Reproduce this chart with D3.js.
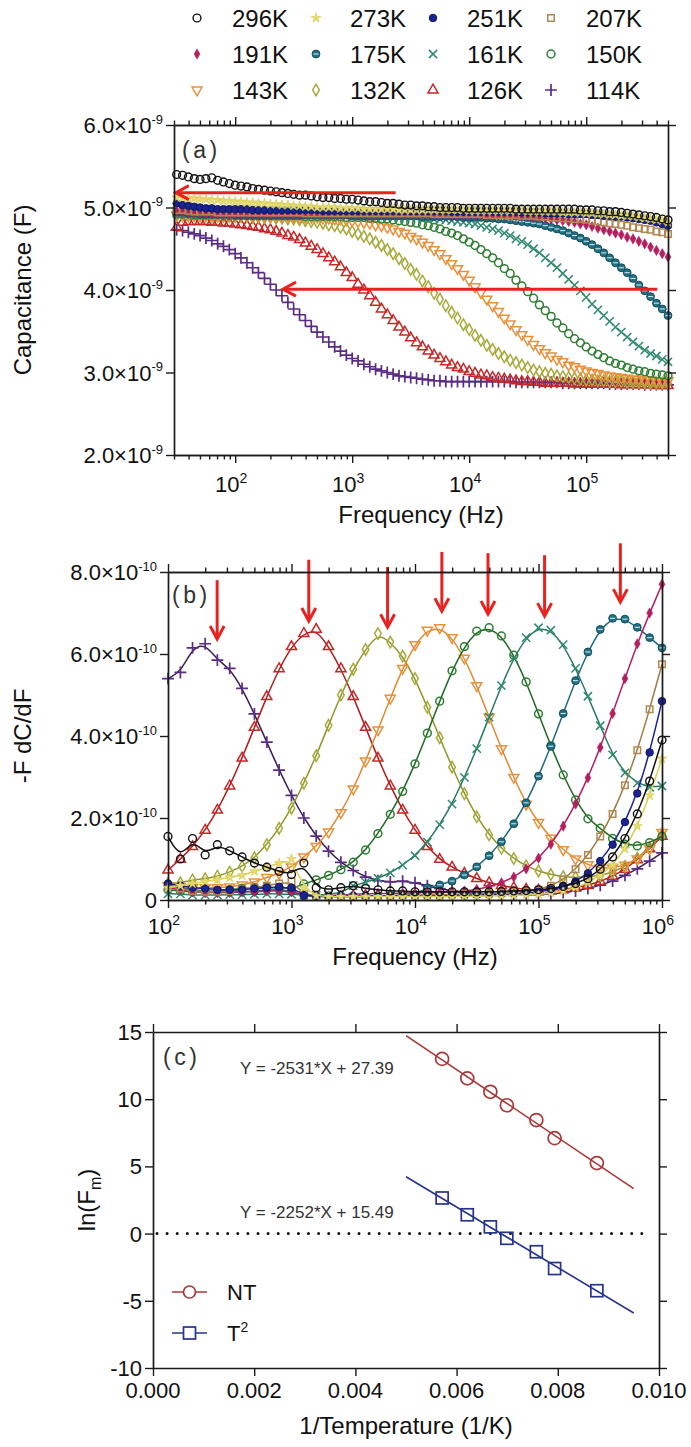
<!DOCTYPE html>
<html><head><meta charset="utf-8">
<script src="https://cdn.jsdelivr.net/npm/d3@7"></script>
<style>
body{margin:0;background:#fff}
svg{display:block}
text{font-family:Arial,"Liberation Sans",Helvetica,sans-serif}
</style>
</head><body>
<svg id="c" width="691" height="1447"></svg>
<script>
// ---------------- DATA ----------------
const temps = ["296K","273K","251K","207K","191K","175K","161K","150K","143K","132K","126K","114K"];

// Panel (a): frequency grid (Hz) and capacitance (nF)
const freqA = [31.6,35.5,39.8,44.7,50.1,56.2,63.1,70.8,79.4,89.1,
 100,112,126,141,158,178,200,224,251,282,
 316,355,398,447,501,562,631,708,794,891,
 1000,1122,1259,1413,1585,1778,1995,2239,2512,2818,
 3162,3548,3981,4467,5012,5623,6310,7079,7943,8913,
 10000,11220,12589,14125,15849,17783,19953,22387,25119,28184,
 31623,35481,39811,44668,50119,56234,63096,70795,79433,89125,
 100000,112202,125893,141254,158489,177828,199526,223872,251189,281838,
 316228,354813,398107,446684,500000];
const cap296 = [5.40,5.39,5.37,5.35,5.34,5.35,5.36,5.33,5.31,5.29,
 5.27,5.26,5.25,5.23,5.22,5.21,5.20,5.19,5.18,5.17,
 5.16,5.15,5.15,5.14,5.13,5.12,5.12,5.11,5.11,5.10,
 5.10,5.09,5.08,5.07,5.07,5.06,5.05,5.05,5.04,5.03,
 5.03,5.02,5.02,5.01,5.01,5.00,5.00,5.00,5.00,4.99,
 4.99,4.99,4.99,4.99,4.99,4.99,4.99,4.99,4.98,4.98,
 4.98,4.98,4.98,4.98,4.98,4.98,4.98,4.98,4.98,4.97,
 4.97,4.97,4.96,4.96,4.95,4.95,4.94,4.93,4.92,4.91,
 4.90,4.89,4.88,4.86,4.85];
const cap273 = [5.12,5.12,5.11,5.11,5.10,5.10,5.09,5.09,5.08,5.08,
 5.07,5.07,5.06,5.06,5.05,5.05,5.04,5.04,5.03,5.03,
 5.02,5.02,5.01,5.01,5.00,5.00,5.00,5.00,4.99,4.99,
 4.99,4.99,4.98,4.98,4.98,4.98,4.98,4.98,4.97,4.97,
 4.97,4.97,4.97,4.97,4.97,4.97,4.97,4.97,4.97,4.97,
 4.96,4.96,4.96,4.96,4.96,4.96,4.96,4.96,4.96,4.96,
 4.95,4.95,4.95,4.95,4.95,4.95,4.94,4.94,4.94,4.94,
 4.93,4.93,4.92,4.92,4.91,4.91,4.90,4.90,4.89,4.88,
 4.87,4.86,4.85,4.84,4.82];
const cap251 = [5.05,5.03,5.02,5.01,5.00,4.99,4.99,4.98,4.98,4.98,
 4.98,4.98,4.98,4.97,4.97,4.97,4.97,4.97,4.97,4.97,
 4.97,4.97,4.97,4.97,4.97,4.96,4.96,4.96,4.96,4.96,
 4.96,4.96,4.96,4.96,4.96,4.96,4.96,4.96,4.96,4.96,
 4.96,4.96,4.96,4.96,4.96,4.96,4.96,4.95,4.95,4.95,
 4.95,4.95,4.95,4.95,4.95,4.95,4.95,4.95,4.95,4.94,
 4.94,4.94,4.94,4.93,4.93,4.93,4.93,4.92,4.92,4.92,
 4.92,4.91,4.91,4.90,4.90,4.89,4.89,4.88,4.87,4.86,
 4.85,4.84,4.82,4.80,4.78];
const cap207 = [4.97,4.97,4.96,4.95,4.95,4.95,4.95,4.94,4.94,4.94,
 4.94,4.94,4.94,4.94,4.94,4.94,4.94,4.94,4.94,4.94,
 4.94,4.94,4.93,4.93,4.93,4.93,4.93,4.93,4.93,4.93,
 4.93,4.93,4.93,4.93,4.93,4.93,4.93,4.93,4.93,4.93,
 4.93,4.93,4.93,4.93,4.92,4.92,4.92,4.92,4.92,4.92,
 4.92,4.92,4.92,4.91,4.91,4.91,4.91,4.91,4.91,4.90,
 4.90,4.90,4.89,4.89,4.88,4.88,4.87,4.87,4.86,4.86,
 4.85,4.84,4.83,4.82,4.81,4.80,4.79,4.78,4.76,4.75,
 4.74,4.73,4.71,4.70,4.68];
const cap191 = [4.95,4.95,4.94,4.93,4.93,4.92,4.92,4.92,4.92,4.92,
 4.92,4.92,4.92,4.92,4.92,4.92,4.92,4.92,4.92,4.92,
 4.92,4.92,4.92,4.92,4.92,4.92,4.92,4.92,4.92,4.92,
 4.92,4.92,4.92,4.92,4.92,4.92,4.92,4.92,4.92,4.92,
 4.92,4.92,4.92,4.92,4.92,4.92,4.92,4.91,4.91,4.91,
 4.91,4.91,4.91,4.90,4.90,4.90,4.90,4.90,4.90,4.89,
 4.89,4.88,4.88,4.87,4.86,4.85,4.84,4.83,4.82,4.80,
 4.79,4.77,4.75,4.73,4.71,4.69,4.67,4.64,4.62,4.59,
 4.56,4.52,4.48,4.44,4.40];
const cap175 = [4.94,4.94,4.93,4.93,4.92,4.92,4.92,4.92,4.92,4.92,
 4.91,4.91,4.91,4.91,4.91,4.91,4.91,4.91,4.91,4.91,
 4.91,4.91,4.91,4.91,4.91,4.91,4.91,4.91,4.91,4.91,
 4.90,4.90,4.90,4.90,4.90,4.90,4.90,4.90,4.90,4.90,
 4.90,4.90,4.89,4.89,4.89,4.89,4.89,4.89,4.89,4.88,
 4.88,4.88,4.88,4.87,4.87,4.86,4.86,4.85,4.84,4.83,
 4.82,4.81,4.80,4.78,4.76,4.74,4.72,4.69,4.66,4.63,
 4.59,4.55,4.50,4.45,4.39,4.33,4.27,4.21,4.14,4.06,
 3.99,3.92,3.84,3.77,3.69];
const cap161 = [4.93,4.93,4.92,4.92,4.92,4.91,4.91,4.91,4.91,4.91,
 4.91,4.91,4.91,4.91,4.90,4.90,4.90,4.90,4.90,4.90,
 4.90,4.90,4.90,4.90,4.90,4.90,4.90,4.90,4.90,4.90,
 4.90,4.89,4.89,4.89,4.89,4.89,4.89,4.89,4.88,4.88,
 4.88,4.88,4.87,4.87,4.86,4.86,4.85,4.84,4.83,4.82,
 4.81,4.80,4.78,4.76,4.74,4.72,4.69,4.66,4.62,4.59,
 4.55,4.50,4.45,4.39,4.33,4.27,4.20,4.13,4.06,3.99,
 3.91,3.83,3.76,3.69,3.62,3.55,3.49,3.43,3.37,3.32,
 3.27,3.23,3.20,3.16,3.13];
const cap150 = [4.92,4.92,4.92,4.91,4.91,4.91,4.91,4.91,4.90,4.90,
 4.90,4.90,4.90,4.90,4.90,4.90,4.90,4.90,4.90,4.90,
 4.90,4.90,4.89,4.89,4.89,4.89,4.89,4.89,4.89,4.88,
 4.88,4.88,4.88,4.87,4.87,4.86,4.86,4.85,4.84,4.83,
 4.82,4.81,4.79,4.78,4.76,4.74,4.71,4.69,4.66,4.62,
 4.58,4.54,4.49,4.44,4.39,4.33,4.26,4.20,4.12,4.05,
 3.98,3.90,3.82,3.75,3.68,3.60,3.54,3.47,3.41,3.36,
 3.31,3.26,3.22,3.18,3.14,3.11,3.09,3.06,3.04,3.02,
 3.01,2.99,2.98,2.97,2.96];
const cap143 = [4.91,4.91,4.91,4.91,4.90,4.90,4.90,4.90,4.90,4.90,
 4.90,4.90,4.90,4.90,4.89,4.89,4.89,4.89,4.89,4.89,
 4.89,4.88,4.88,4.88,4.88,4.87,4.87,4.86,4.86,4.85,
 4.84,4.83,4.82,4.81,4.79,4.78,4.76,4.74,4.71,4.69,
 4.65,4.62,4.58,4.54,4.49,4.44,4.38,4.32,4.26,4.19,
 4.12,4.04,3.97,3.89,3.81,3.74,3.66,3.59,3.52,3.46,
 3.40,3.34,3.29,3.24,3.20,3.16,3.13,3.09,3.07,3.04,
 3.02,3.00,2.99,2.97,2.96,2.95,2.94,2.93,2.92,2.92,
 2.91,2.91,2.90,2.90,2.90];
const cap132 = [4.90,4.90,4.90,4.90,4.90,4.90,4.89,4.89,4.89,4.89,
 4.89,4.89,4.89,4.88,4.88,4.88,4.88,4.87,4.87,4.86,
 4.86,4.85,4.84,4.83,4.82,4.81,4.79,4.78,4.76,4.74,
 4.71,4.68,4.65,4.62,4.58,4.54,4.49,4.44,4.38,4.32,
 4.25,4.19,4.11,4.04,3.96,3.89,3.81,3.73,3.66,3.58,
 3.52,3.45,3.39,3.33,3.28,3.23,3.19,3.15,3.12,3.09,
 3.06,3.03,3.01,2.99,2.98,2.96,2.95,2.94,2.93,2.92,
 2.91,2.91,2.90,2.90,2.89,2.89,2.89,2.88,2.88,2.88,
 2.88,2.87,2.87,2.87,2.87];
const cap126 = [4.76,4.82,4.83,4.83,4.83,4.83,4.82,4.82,4.81,4.81,
 4.80,4.79,4.78,4.77,4.76,4.74,4.73,4.71,4.69,4.66,
 4.64,4.61,4.57,4.53,4.49,4.44,4.39,4.34,4.28,4.21,
 4.15,4.07,4.00,3.93,3.85,3.77,3.70,3.63,3.55,3.49,
 3.42,3.36,3.31,3.26,3.21,3.17,3.13,3.09,3.06,3.04,
 3.01,2.99,2.97,2.96,2.94,2.93,2.92,2.91,2.90,2.89,
 2.89,2.88,2.88,2.87,2.87,2.87,2.87,2.87,2.86,2.86,
 2.86,2.86,2.86,2.86,2.86,2.86,2.85,2.85,2.85,2.85,
 2.85,2.85,2.84,2.84,2.84];
const cap114 = [4.73,4.72,4.70,4.68,4.66,4.63,4.60,4.56,4.53,4.49,
 4.44,4.39,4.33,4.27,4.21,4.14,4.07,4.00,3.93,3.85,
 3.77,3.70,3.63,3.56,3.49,3.43,3.37,3.31,3.26,3.21,
 3.17,3.14,3.10,3.07,3.04,3.02,3.00,2.98,2.96,2.95,
 2.94,2.93,2.92,2.91,2.90,2.90,2.89,2.89,2.89,2.89,
 2.89,2.89,2.89,2.89,2.89,2.89,2.89,2.89,2.88,2.88,
 2.88,2.88,2.88,2.88,2.88,2.88,2.87,2.87,2.87,2.87,
 2.87,2.87,2.87,2.87,2.86,2.86,2.86,2.86,2.86,2.86,
 2.85,2.85,2.85,2.85,2.85];

// Panel (b): frequency grid (Hz) and -F dC/dF (x1e-10 F)
const freqB = [100,126,158,200,251,316,398,501,631,794,1000,1259,1585,1995,2512,3162,3981,5012,6310,7943,10000,12589,15849,19953,25119,31623,39811,50119,63096,79433,100000,125893,158489,199526,251189,316228,398107,501187,630957,794328,1000000];
const d296 = [1.55,1.00,1.50,1.10,1.35,1.20,1.05,0.90,0.80,0.70,0.62,0.90,0.30,0.25,0.30,0.35,0.28,0.25,0.22,0.22,0.20,0.20,0.20,0.20,0.20,0.20,0.20,0.21,0.22,0.23,0.25,0.28,0.33,0.40,0.52,0.75,1.05,1.50,2.10,2.90,3.90];
const d273 = [0.30,0.35,0.40,0.45,0.50,0.55,0.60,0.70,0.80,0.90,1.00,0.30,0.10,0.08,0.08,0.08,0.08,0.08,0.08,0.08,0.08,0.08,0.08,0.08,0.09,0.09,0.10,0.10,0.11,0.12,0.14,0.17,0.22,0.30,0.42,0.60,0.85,1.25,1.80,2.55,3.45];
const d251 = [0.40,0.35,0.30,0.28,0.25,0.25,0.25,0.28,0.30,0.32,0.30,0.12,0.10,0.10,0.10,0.10,0.10,0.10,0.10,0.10,0.10,0.10,0.10,0.11,0.11,0.12,0.13,0.14,0.15,0.17,0.20,0.25,0.32,0.45,0.65,0.95,1.35,1.90,2.60,3.60,4.85];
const d207 = [0.35,0.28,0.22,0.20,0.20,0.22,0.25,0.30,0.35,0.40,0.45,0.15,0.10,0.08,0.08,0.08,0.08,0.10,0.10,0.12,0.12,0.13,0.13,0.14,0.14,0.15,0.16,0.18,0.20,0.22,0.25,0.35,0.50,0.75,1.10,1.55,2.10,2.80,3.65,4.65,5.75];
const d191 = [0.30,0.25,0.20,0.18,0.18,0.18,0.20,0.20,0.22,0.22,0.20,0.12,0.10,0.10,0.12,0.14,0.15,0.16,0.16,0.17,0.17,0.18,0.18,0.20,0.22,0.26,0.32,0.42,0.56,0.76,1.02,1.36,1.80,2.34,2.98,3.72,4.55,5.40,6.25,7.00,7.70];
const d175 = [0.35,0.30,0.25,0.22,0.20,0.20,0.20,0.22,0.25,0.25,0.22,0.10,0.08,0.08,0.08,0.08,0.08,0.10,0.10,0.12,0.14,0.30,0.37,0.46,0.61,0.81,1.08,1.42,1.86,2.37,3.02,3.75,4.55,5.35,6.05,6.60,6.87,6.85,6.65,6.40,6.15];
const d161 = [0.15,0.15,0.12,0.12,0.12,0.13,0.13,0.14,0.15,0.15,0.14,0.12,0.12,0.14,0.17,0.35,0.43,0.53,0.66,0.85,1.08,1.41,1.84,2.34,2.99,3.69,4.46,5.23,5.90,6.40,6.64,6.58,6.23,5.65,4.97,4.25,3.54,3.10,2.85,2.75,2.78];
const d150 = [0.25,0.22,0.20,0.20,0.22,0.25,0.28,0.30,0.32,0.30,0.28,0.39,0.49,0.60,0.74,0.92,1.22,1.62,2.09,2.65,3.32,4.07,4.85,5.59,6.18,6.56,6.64,6.44,5.97,5.32,4.54,3.76,3.05,2.44,1.98,1.75,1.50,1.36,1.32,1.40,1.55];
const d143 = [0.35,0.33,0.30,0.30,0.30,0.32,0.37,0.44,0.55,0.65,0.81,1.05,1.31,1.66,2.13,2.71,3.39,4.15,4.92,5.65,6.23,6.58,6.64,6.40,5.90,5.23,4.46,3.69,2.99,2.34,1.89,1.51,1.23,1.00,0.86,0.78,0.78,0.85,1.00,1.25,1.65];
const d132 = [0.40,0.42,0.49,0.52,0.58,0.68,0.82,1.03,1.35,1.75,2.24,2.85,3.52,4.26,5.00,5.63,6.11,6.50,6.29,5.95,5.40,4.70,3.96,3.24,2.59,2.03,1.59,1.26,1.01,0.83,0.71,0.62,0.57,0.55,0.56,0.60,0.68,0.82,1.02,1.28,1.60];
const d126 = [0.73,0.99,1.30,1.70,2.19,2.78,3.46,4.21,4.96,5.64,6.18,6.50,6.60,6.18,5.64,4.96,4.21,3.46,2.78,2.19,1.70,1.30,0.99,0.80,0.65,0.52,0.42,0.35,0.30,0.26,0.24,0.24,0.26,0.30,0.36,0.45,0.58,0.75,0.98,1.25,1.55];
const d114 = [5.40,5.55,6.15,6.25,5.85,5.65,5.16,4.54,3.85,3.17,2.55,2.00,1.56,1.19,0.92,0.72,0.56,0.47,0.44,0.46,0.42,0.35,0.28,0.22,0.18,0.15,0.13,0.12,0.12,0.12,0.13,0.15,0.18,0.22,0.28,0.36,0.46,0.60,0.76,0.95,1.15];

// Peak-frequency arrows of panel (b): frequency (Hz), arrow top and tip (x1e-10 F)
const peakFreq = [250,1380,6000,16500,39000,112000,460000];
const arrowTop = [7.8,8.3,8.12,8.49,8.46,8.41,8.7];
const arrowTip = [6.34,6.78,6.63,7.02,6.95,6.9,7.24];

// Panel (a) arrows: start freq, end freq, level (nF)
const arrowAFrom = [2350, 405000];
const arrowATo = [30.5, 251];
const arrowALevel = [5.18, 4.01];

// Panel (c)
const invT = [0.005714,0.006211,0.006667,0.006993,0.007576,0.007937,0.008772];
const lnNT = [13.0,11.55,10.55,9.55,8.45,7.1,5.25];
const lnT2 = [2.65,1.4,0.5,-0.35,-1.35,-2.6,-4.25];
const fitSlope = [-2531,-2252];
const fitIntercept = [27.39,15.49];
const fitRange = [0.005,0.0095];
const eqText = ["Y = -2531*X + 27.39","Y = -2252*X + 15.49"];

const capSeries = [cap296,cap273,cap251,cap207,cap191,cap175,cap161,cap150,cap143,cap132,cap126,cap114];
const dSeries = [d296,d273,d251,d207,d191,d175,d161,d150,d143,d132,d126,d114];
capSeries.forEach((s,i)=>{ if (s.length !== freqA.length) console.error("capA length", temps[i], s.length); });
dSeries.forEach((s,i)=>{ if (s.length !== freqB.length) console.error("dB length", temps[i], s.length); });

// ---------------- STYLES ----------------
const sPlus = d3.symbolPlus || d3.symbolCross;
const sTimes = d3.symbolTimes || d3.symbolCross;
const mk = [
 {t:d3.symbolCircle, s:48, fill:"none", stroke:"#111", sw:1.4, line:"#111"},
 {t:d3.symbolStar, s:30, fill:"#e6dc6e", stroke:"#d4c858", sw:0.6, line:"#d9cf5c"},
 {t:d3.symbolCircle, s:44, fill:"#1b2390", stroke:"#0f1560", sw:1, line:"#1b2390"},
 {t:d3.symbolSquare, s:42, fill:"none", stroke:"#b08850", sw:1.5, line:"#a07a45"},
 {t:d3.symbolDiamond, s:30, fill:"#b3205f", stroke:"#b3205f", sw:0.6, line:"#b3205f"},
 {t:d3.symbolCircle, s:48, fill:"#1f7186", stroke:"#134b58", sw:1, band:true, line:"#1f6a7c"},
 {t:sTimes, s:46, fill:"none", stroke:"#2f8a6e", sw:1.5, line:"#2a7a60"},
 {t:d3.symbolCircle, s:48, fill:"none", stroke:"#2e7d32", sw:1.5, line:"#1e6a22"},
 {t:d3.symbolTriangle, s:44, fill:"none", stroke:"#e8913a", sw:1.5, rot:180, line:"#e08a30"},
 {t:d3.symbolDiamond, s:38, fill:"none", stroke:"#a7a93a", sw:1.5, line:"#8f962a"},
 {t:d3.symbolTriangle, s:44, fill:"none", stroke:"#c62828", sw:1.5, line:"#b01c1c"},
 {t:sPlus, s:48, fill:"none", stroke:"#5b2c83", sw:1.7, line:"#3a1d55"}
];
const RED = "#e8231f";
const AX = "#1a1a1a";

const svg = d3.select("#c");

function drawMarkers(g, pts, st) {
  const sym = d3.symbol(st.t, st.s);
  g.selectAll(null).data(pts).join("path")
    .attr("d", sym)
    .attr("transform", d => `translate(${d[0]},${d[1]})` + (st.rot ? ` rotate(${st.rot})` : ""))
    .attr("fill", st.fill).attr("stroke", st.stroke).attr("stroke-width", st.sw);
  if (st.band) {
    g.selectAll(null).data(pts).join("line")
      .attr("x1", d => d[0]-2.6).attr("x2", d => d[0]+2.6)
      .attr("y1", d => d[1]).attr("y2", d => d[1])
      .attr("stroke", "#cfe3e8").attr("stroke-width", 1.1);
  }
}

function supText(g, x, y, base, sup, anchor, size, supSize, family) {
  const t = g.append("text").attr("x", x).attr("y", y).attr("text-anchor", anchor)
    .attr("font-size", size).attr("fill", "#111");
  if (family) t.attr("font-family", family);
  t.append("tspan").text(base);
  if (sup !== null && sup !== undefined) t.append("tspan").attr("dy", -size*0.42).attr("font-size", supSize).text(sup);
  return t;
}

function logTickVals(lo, hi) {
  const out = [];
  for (let e = Math.floor(Math.log10(lo)); e <= Math.ceil(Math.log10(hi)); e++)
    for (let k = 1; k < 10; k++) { const v = k * Math.pow(10, e); if (v >= lo*0.999 && v <= hi*1.001) out.push({v, major: k === 1, e}); }
  return out;
}

function styleAxis(sel) {
  sel.selectAll("path.domain").attr("stroke", AX).attr("stroke-width", 1.7);
  sel.selectAll(".tick line").attr("stroke", AX).attr("stroke-width", 1.4);
  sel.selectAll(".tick text").remove();
}

function frameAxes(x, y, box, xMajors, xMinors, yMajors) {
  const g = svg.append("g");
  const mk2 = (axis, tx, ty, vals, size) => {
    const a = g.append("g").attr("transform", `translate(${tx},${ty})`)
      .call(axis.tickValues(vals).tickSize(size).tickSizeOuter(0).tickFormat(""));
    styleAxis(a);
  };
  mk2(d3.axisBottom(x), 0, box.b, xMajors, 8);
  mk2(d3.axisTop(x), 0, box.t, xMajors, 8);
  if (xMinors) { mk2(d3.axisBottom(x), 0, box.b, xMinors, 4.5); mk2(d3.axisTop(x), 0, box.t, xMinors, 4.5); }
  mk2(d3.axisLeft(y), box.l, 0, yMajors, 8);
  mk2(d3.axisRight(y), box.r, 0, yMajors, 8);
  return g;
}

const SERIF = "'Liberation Serif','DejaVu Serif',serif";

// ---------------- LEGEND (top) ----------------
const legX = [197, 316, 433, 551];
const legTX = [232, 350, 467, 586];
const legY = [18, 54, 90];
temps.forEach((tName, i) => {
  const col = i % 4, row = Math.floor(i / 4);
  const g = svg.append("g");
  drawMarkers(g, [[legX[col], legY[row]]], mk[i]);
  g.append("text").attr("x", legTX[col]).attr("y", legY[row] + 8.5).attr("font-size", 24).attr("fill", "#111").text(tName);
});

// ---------------- PANEL A ----------------
{
  const box = {l:174, r:668, t:125, b:455};
  const x = d3.scaleLog().domain([30, 5e5]).range([box.l, box.r]);
  const y = d3.scaleLinear().domain([2e-9, 6e-9]).range([box.b, box.t]);
  const ticks = logTickVals(30, 5e5);
  const maj = ticks.filter(d => d.major).map(d => d.v);
  const mnr = ticks.filter(d => !d.major).map(d => d.v);
  const yMaj = [2e-9,3e-9,4e-9,5e-9,6e-9];
  const gd = svg.append("g");
  for (let i = capSeries.length - 1; i >= 0; i--) {
    const pts = freqA.map((f, k) => [x(f), y(capSeries[i][k] * 1e-9)]);
    drawMarkers(gd.append("g"), pts, mk[i]);
  }
  arrowAFrom.forEach((f0, i) => {
    const yy = y(arrowALevel[i] * 1e-9), x0 = x(f0), x1 = x(arrowATo[i]);
    svg.append("line").attr("x1", x0).attr("x2", x1 + 1).attr("y1", yy).attr("y2", yy)
      .attr("stroke", RED).attr("stroke-width", 3);
    svg.append("path").attr("d", `M${x1+14},${yy-7}L${x1+1},${yy}L${x1+14},${yy+7}`)
      .attr("fill", "none").attr("stroke", RED).attr("stroke-width", 3);
  });
  frameAxes(x, y, box, maj, mnr, yMaj);
  const gl = svg.append("g");
  yMaj.forEach(v => {
    const m = Math.round(v / 1e-9);
    supText(gl, box.l - 11, y(v) + 8, m.toFixed(1) + "×10", "-9", "end", 22, 13);
  });
  ticks.filter(d => d.major).forEach(d => {
    supText(gl, x(d.v) - 4, 492, "10", String(d.e), "middle", 22, 14);
  });
  gl.append("text").attr("x", (box.l + box.r) / 2).attr("y", 523).attr("text-anchor", "middle")
    .attr("font-size", 24).attr("fill", "#111").text("Frequency (Hz)");
  gl.append("text").attr("transform", `translate(31,${(box.t + box.b) / 2}) rotate(-90)`).attr("text-anchor", "middle")
    .attr("font-size", 24).attr("fill", "#111").text("Capacitance (F)");
  gl.append("text").attr("x", 182).attr("y", 158).attr("font-size", 23).attr("letter-spacing", 3.5)
    .attr("font-family", SERIF).attr("fill", "#333").text("(a)");
}

// ---------------- PANEL B ----------------
{
  const box = {l:168, r:662, t:572, b:900};
  const x = d3.scaleLog().domain([100, 1e6]).range([box.l, box.r]);
  const y = d3.scaleLinear().domain([0, 8e-10]).range([box.b, box.t]);
  const ticks = logTickVals(100, 1e6);
  const maj = ticks.filter(d => d.major).map(d => d.v);
  const mnr = ticks.filter(d => !d.major).map(d => d.v);
  const yMaj = [0, 2e-10, 4e-10, 6e-10, 8e-10];
  const gd = svg.append("g");
  const line = d3.line().x(d => d[0]).y(d => d[1]).curve(d3.curveBasis);
  for (let i = dSeries.length - 1; i >= 0; i--) {
    const pts = freqB.map((f, k) => [x(f), y(dSeries[i][k] * 1e-10)]);
    const g = gd.append("g");
    g.append("path").attr("d", line(pts)).attr("fill", "none").attr("stroke", mk[i].line).attr("stroke-width", 1.5);
    drawMarkers(g, pts, mk[i]);
  }
  peakFreq.forEach((f, i) => {
    const xx = x(f), y0 = y(arrowTop[i] * 1e-10), y1 = y(arrowTip[i] * 1e-10);
    svg.append("line").attr("x1", xx).attr("x2", xx).attr("y1", y0).attr("y2", y1 - 1)
      .attr("stroke", RED).attr("stroke-width", 3);
    svg.append("path").attr("d", `M${xx-7},${y1-14}L${xx},${y1-1}L${xx+7},${y1-14}`)
      .attr("fill", "none").attr("stroke", RED).attr("stroke-width", 3);
  });
  frameAxes(x, y, box, maj, mnr, yMaj);
  const gl = svg.append("g");
  yMaj.forEach(v => {
    if (v === 0) { gl.append("text").attr("x", box.l - 11).attr("y", y(v) + 8).attr("text-anchor", "end").attr("font-size", 22).attr("fill", "#111").text("0"); return; }
    const m = Math.round(v / 1e-10);
    supText(gl, box.l - 11, y(v) + 8, m.toFixed(1) + "×10", "-10", "end", 22, 13);
  });
  ticks.filter(d => d.major).forEach(d => {
    supText(gl, x(d.v) - 4, 934, "10", String(d.e), "middle", 22, 14);
  });
  gl.append("text").attr("x", (box.l + box.r) / 2).attr("y", 965).attr("text-anchor", "middle")
    .attr("font-size", 24).attr("fill", "#111").text("Frequency (Hz)");
  gl.append("text").attr("transform", `translate(31,${(box.t + box.b) / 2}) rotate(-90)`).attr("text-anchor", "middle")
    .attr("font-size", 24).attr("fill", "#111").text("-F dC/dF");
  gl.append("text").attr("x", 172).attr("y", 603).attr("font-size", 23).attr("letter-spacing", 3.5)
    .attr("font-family", SERIF).attr("fill", "#333").text("(b)");
}

// ---------------- PANEL C ----------------
{
  const box = {l:153, r:659, t:1032, b:1368};
  const x = d3.scaleLinear().domain([0, 0.010]).range([box.l, box.r]);
  const y = d3.scaleLinear().domain([-10, 15]).range([box.b, box.t]);
  const xMaj = [0, 0.002, 0.004, 0.006, 0.008, 0.010];
  const yMaj = [-10, -5, 0, 5, 10, 15];
  const NTc = "#a8393a", T2c = "#27348e";
  svg.append("line").attr("x1", x(0) + 4).attr("x2", x(0.0098)).attr("y1", y(0)).attr("y2", y(0))
    .attr("stroke", "#111").attr("stroke-width", 3).attr("stroke-linecap", "round").attr("stroke-dasharray", "0,10.1");
  const fitCol = [NTc, T2c];
  fitSlope.forEach((s, i) => {
    svg.append("line").attr("x1", x(fitRange[0])).attr("x2", x(fitRange[1]))
      .attr("y1", y(s * fitRange[0] + fitIntercept[i])).attr("y2", y(s * fitRange[1] + fitIntercept[i]))
      .attr("stroke", fitCol[i]).attr("stroke-width", 1.6);
  });
  const g = svg.append("g");
  g.selectAll(null).data(invT.map((v, k) => [x(v), y(lnNT[k])])).join("circle")
    .attr("cx", d => d[0]).attr("cy", d => d[1]).attr("r", 6.5)
    .attr("fill", "none").attr("stroke", NTc).attr("stroke-width", 1.7);
  g.selectAll(null).data(invT.map((v, k) => [x(v), y(lnT2[k])])).join("rect")
    .attr("x", d => d[0] - 6).attr("y", d => d[1] - 6).attr("width", 12).attr("height", 12)
    .attr("fill", "none").attr("stroke", T2c).attr("stroke-width", 1.7);
  frameAxes(x, y, box, xMaj, null, yMaj);
  const gl = svg.append("g");
  yMaj.forEach(v => gl.append("text").attr("x", box.l - 11).attr("y", y(v) + 8).attr("text-anchor", "end")
    .attr("font-size", 22).attr("fill", "#111").text(String(v)));
  xMaj.forEach(v => gl.append("text").attr("x", x(v)).attr("y", 1398).attr("text-anchor", "middle")
    .attr("font-size", 22).attr("fill", "#111").text(v.toFixed(3)));
  gl.append("text").attr("x", (box.l + box.r) / 2).attr("y", 1434).attr("text-anchor", "middle")
    .attr("font-size", 24).attr("fill", "#111").text("1/Temperature (1/K)");
  const yl = gl.append("text").attr("transform", `translate(95,${(box.t + box.b) / 2}) rotate(-90)`).attr("text-anchor", "middle")
    .attr("font-size", 24).attr("fill", "#111");
  yl.append("tspan").text("ln(F");
  yl.append("tspan").attr("dy", 6).attr("font-size", 16).text("m");
  yl.append("tspan").attr("dy", -6).text(")");
  gl.append("text").attr("x", 163).attr("y", 1065).attr("font-size", 23).attr("letter-spacing", 3.5)
    .attr("font-family", SERIF).attr("fill", "#333").text("(c)");
  gl.append("text").attr("x", 240).attr("y", 1074).attr("font-size", 17).attr("fill", "#333").text(eqText[0]);
  gl.append("text").attr("x", 240).attr("y", 1218).attr("font-size", 17).attr("fill", "#333").text(eqText[1]);
  const lg = [{c: NTc, y: 1292, lab: "NT", sup: null, sq: false}, {c: T2c, y: 1333, lab: "T", sup: "2", sq: true}];
  lg.forEach(d => {
    gl.append("line").attr("x1", 172).attr("x2", 207).attr("y1", d.y).attr("y2", d.y).attr("stroke", d.c).attr("stroke-width", 1.6);
    if (d.sq) gl.append("rect").attr("x", 183.5).attr("y", d.y - 6).attr("width", 12).attr("height", 12).attr("fill", "#fff").attr("stroke", d.c).attr("stroke-width", 1.7);
    else gl.append("circle").attr("cx", 189.5).attr("cy", d.y).attr("r", 6).attr("fill", "#fff").attr("stroke", d.c).attr("stroke-width", 1.7);
    supText(gl, 227, d.y + 8, d.lab, d.sup, "start", 22, 14);
  });
}
</script>
</body></html>
